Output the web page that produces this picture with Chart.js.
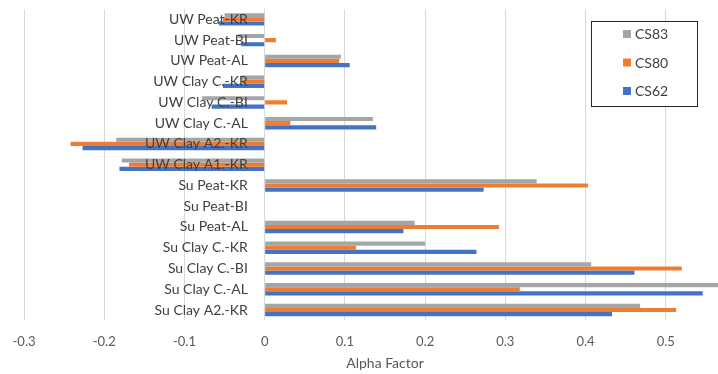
<!DOCTYPE html>
<html>
<head>
<meta charset="utf-8">
<script src="https://cdn.jsdelivr.net/npm/chart.js@4/dist/chart.umd.min.js"></script>
<style>
  html, body { margin: 0; padding: 0; background: #ffffff; overflow: hidden; }
  #frame { width: 718px; height: 374px; overflow: hidden; position: relative; }
  #chart { display: block; }
</style>
</head>
<body>
<div id="frame"><canvas id="chart" width="760" height="374"></canvas></div>
<script>
// Sample sites, listed top to bottom
const categories = [
  'UW Peat-KR', 'UW Peat-BI', 'UW Peat-AL',
  'UW Clay C.-KR', 'UW Clay C.-BI', 'UW Clay C.-AL',
  'UW Clay A2.-KR', 'UW Clay A1.-KR',
  'Su Peat-KR', 'Su Peat-BI', 'Su Peat-AL',
  'Su Clay C.-KR', 'Su Clay C.-BI', 'Su Clay C.-AL', 'Su Clay A2.-KR'
];

// Alpha factor per survey
const cs83 = [-0.050, -0.033, 0.095, -0.030, -0.078, 0.135, -0.185, -0.178, 0.339, 0, 0.187, 0.200, 0.407, 0.575, 0.468];
const cs80 = [-0.052, 0.014, 0.093, -0.028, 0.028, 0.032, -0.242, -0.169, 0.403, 0, 0.292, 0.114, 0.520, 0.318, 0.513];
const cs62 = [-0.057, -0.029, 0.106, -0.052, -0.066, 0.139, -0.227, -0.181, 0.273, 0, 0.173, 0.264, 0.461, 0.546, 0.433];

const seriesNames = ['CS83', 'CS80', 'CS62'];
const seriesColors = ['#a5a5a5', '#ed7d31', '#4472c4'];

const xMin = -0.3, xMax = 0.6, xStep = 0.1;
const axisTitle = 'Alpha Factor';
// Category labels sit just left of the zero line
const labelAnchor = -0.021;

const fontFamily = 'Lato, "Open Sans", sans-serif';

// Boxed legend in the upper right of the plot
const boxedLegend = {
  id: 'boxedLegend',
  afterDraw(chart) {
    const ctx = chart.ctx;
    const left = 591, top = 21, w = 106, h = 85;
    ctx.save();
    ctx.fillStyle = '#ffffff';
    ctx.fillRect(left, top, w, h);
    ctx.strokeStyle = '#262626';
    ctx.lineWidth = 1;
    ctx.strokeRect(left + 0.5, top + 0.5, w, h);
    ctx.font = '14px ' + fontFamily;
    ctx.textBaseline = 'middle';
    ctx.textAlign = 'left';
    chart.data.datasets.forEach((ds, i) => {
      const y = 34 + i * 28.5;
      ctx.fillStyle = ds.backgroundColor;
      ctx.fillRect(623, y - 4, 8, 8);
      ctx.fillStyle = '#404040';
      ctx.fillText(ds.label, 635, y + 0.5);
    });
    ctx.restore();
  }
};

new Chart(document.getElementById('chart'), {
  type: 'bar',
  data: {
    labels: categories,
    datasets: [cs83, cs80, cs62].map((vals, i) => ({
      label: seriesNames[i],
      data: vals,
      backgroundColor: seriesColors[i],
      borderWidth: 0,
      categoryPercentage: 0.6,
      barPercentage: 1.0
    }))
  },
  options: {
    indexAxis: 'y',
    responsive: false,
    animation: false,
    devicePixelRatio: 1,
    layout: { padding: { left: 24, right: 14, top: 9, bottom: 2 } },
    plugins: {
      legend: { display: false },
      tooltip: { enabled: false }
    },
    scales: {
      x: {
        type: 'linear',
        min: xMin,
        max: xMax,
        afterFit(scale) {
          scale.height = 51.6;
          scale.paddingLeft = 0;
          scale.paddingRight = 0;
        },
        ticks: {
          stepSize: xStep,
          color: '#595959',
          font: { family: fontFamily, size: 13 },
          padding: 14,
          callback: v => {
            const r = Math.round(v * 10) / 10;
            return r === 0 ? '0' : r.toString();
          }
        },
        grid: { color: '#d9d9d9', drawTicks: false, lineWidth: 1 },
        border: { display: false },
        title: {
          display: true,
          text: axisTitle,
          color: '#595959',
          font: { family: fontFamily, size: 14 },
          padding: { top: 0, bottom: 0 }
        }
      },
      y: {
        type: 'category',
        position: { x: labelAnchor },
        afterFit(scale) {
          scale.paddingTop = 0;
          scale.paddingBottom = 0;
        },
        ticks: {
          color: '#404040',
          font: { family: fontFamily, size: 14 },
          autoSkip: false,
          z: 1
        },
        grid: { display: false, drawTicks: false },
        border: { display: false }
      }
    }
  },
  plugins: [boxedLegend]
});
</script>
</body>
</html>
